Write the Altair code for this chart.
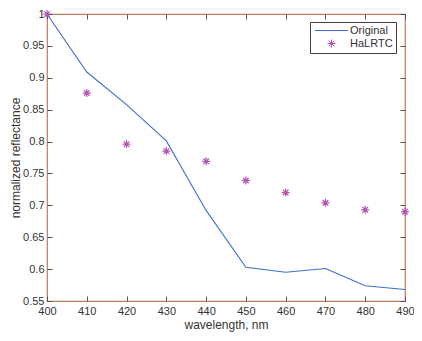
import altair as alt
import pandas as pd

wavelength = [400, 410, 420, 430, 440, 450, 460, 470, 480, 490]
original = [1.0, 0.909, 0.858, 0.801, 0.692, 0.603, 0.595, 0.601, 0.574, 0.568]
halrtc = [1.0, 0.876, 0.796, 0.785, 0.769, 0.739, 0.720, 0.704, 0.693, 0.690]
x_ticks = [400, 410, 420, 430, 440, 450, 460, 470, 480, 490]
y_ticks = [0.55, 0.6, 0.65, 0.7, 0.75, 0.8, 0.85, 0.9, 0.95, 1.0]
series_names = ["Original", "HaLRTC"]

df = pd.DataFrame(
    {"wavelength": wavelength * 2,
     "value": original + halrtc,
     "series": ["Original"] * len(original) + ["HaLRTC"] * len(halrtc)}
)
df_orig = df[df.series == "Original"]
df_hal = df[df.series == "HaLRTC"]

AX = "#c07a60"
TXT = "#333333"
FONT = "Liberation Sans"
BLUE = "#3c6fd0"
MAG = "#b455b4"
LINE_SYM = "M-3.3,0L3.3,0"
STAR = "M-0.8,0L0.8,0M0,-0.8L0,0.8M-0.56,-0.56L0.56,0.56M-0.56,0.56L0.56,-0.56"
SYM = 100

xs = alt.Scale(domain=[400, 490], nice=False)
ys = alt.Scale(domain=[0.55, 1.0], nice=False, zero=False)

legend_opts = dict(title=None, orient="none", legendX=263, legendY=8,
                   symbolSize=SYM, symbolStrokeWidth=1,
                   labelFont=FONT, labelFontSize=11, labelColor=TXT,
                   strokeColor="#404040", fillColor="white",
                   padding=3, rowPadding=1, cornerRadius=0,
                   labelOffset=13, symbolOffset=13)
color = alt.Color("series:N", scale=alt.Scale(domain=series_names, range=[BLUE, MAG]),
                  legend=alt.Legend(**legend_opts))
shape = alt.Shape("series:N", scale=alt.Scale(domain=series_names, range=[LINE_SYM, STAR]),
                  legend=alt.Legend(**legend_opts))

tick_axis = dict(domain=False, labels=False, title=None, ticks=True, tickSize=5,
                 tickColor="#555555", grid=False)

line = alt.Chart(df_orig).mark_line(color=BLUE, strokeWidth=1.1).encode(
    x=alt.X("wavelength:Q", scale=xs,
            axis=alt.Axis(values=x_ticks, format="d", ticks=False, domain=False,
                          labelPadding=4, labelFlush=False,
                          title="wavelength, nm", titlePadding=3,
                          labelFont=FONT, labelFontSize=11, labelColor=TXT,
                          titleFont=FONT, titleFontSize=12, titleFontWeight="normal",
                          titleColor=TXT, grid=False)),
    y=alt.Y("value:Q", scale=ys,
            axis=alt.Axis(values=y_ticks, format="~g", ticks=False, domain=False,
                          labelPadding=3, labelFlush=False,
                          title="normalized reflectance", titlePadding=0,
                          labelFont=FONT, labelFontSize=11, labelColor=TXT,
                          titleFont=FONT, titleFontSize=12, titleFontWeight="normal",
                          titleColor=TXT, grid=False)),
    color=color,
    shape=shape,
)

points = alt.Chart(df_hal).mark_point(filled=False, size=SYM, strokeWidth=1.2, opacity=1).encode(
    x=alt.X("wavelength:Q", scale=xs,
            axis=alt.Axis(values=x_ticks, orient="bottom", offset=-5, **tick_axis)),
    y=alt.Y("value:Q", scale=ys,
            axis=alt.Axis(values=y_ticks, orient="left", offset=-5, **tick_axis)),
    color=color,
    shape=shape,
)

ghost = alt.Chart(df_hal).mark_point(opacity=0, size=1).encode(
    x=alt.X("wavelength:Q", scale=xs,
            axis=alt.Axis(values=x_ticks, orient="top", offset=-5, **tick_axis)),
    y=alt.Y("value:Q", scale=ys,
            axis=alt.Axis(values=y_ticks, orient="right", offset=-5, **tick_axis)),
)

chart = alt.layer(line, points, ghost).resolve_axis(x="independent", y="independent").properties(
    width=358, height=287,
    autosize=alt.AutoSizeParams(type="none"),
    padding={"left": 39, "top": 6, "right": 9, "bottom": 32},
    background="white",
).configure_view(stroke=AX, strokeWidth=1.2)

chart.save("out.html", embed_options={"renderer": "svg", "actions": False})
